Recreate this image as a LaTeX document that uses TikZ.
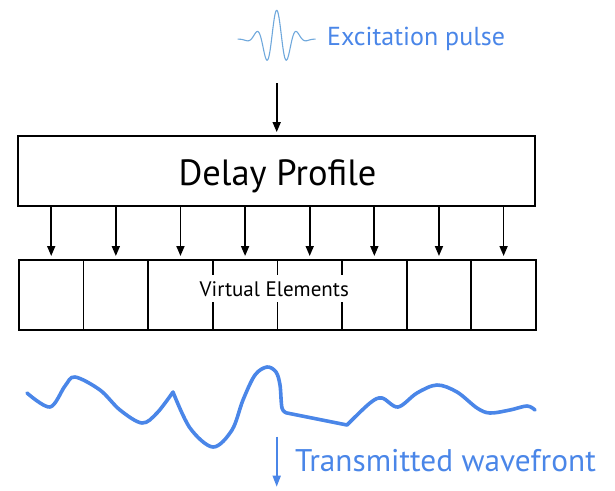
\documentclass[tikz,border=0pt]{standalone}
\usepackage{fontspec}
\setmainfont{PT Sans}
\usetikzlibrary{arrows.meta}
\definecolor{wblue}{HTML}{4A86E8}
\definecolor{lblue}{HTML}{6FA8DC}
\tikzset{
  cell/.style={draw, line width=1.8pt, minimum width=64.625pt, minimum height=70pt, inner sep=0pt, anchor=north west},
  bigbox/.style={draw, line width=1.8pt, minimum width=517pt, minimum height=70pt, inner sep=0pt},
  blkarrow/.style={line width=1.7pt, -{Triangle[width=8pt,length=10pt]}},
  bluearrow/.style={line width=1.7pt, wblue, -{Triangle[width=8pt,length=11pt]}},
  bluetext/.style={text=wblue, inner sep=0pt}
}
\begin{document}
\begin{tikzpicture}[x=1pt, y=-1pt]
\useasboundingbox (0,0) rectangle (615,490);
% excitation pulse
\draw[lblue, line width=1.1pt] plot[domain=-39:39, samples=160] ({276.7+\x}, {39.3-29*cos(360*\x/20.5)*exp(-\x*\x/300)});
\node[bluetext, anchor=base west, font=\fontsize{26}{30}\selectfont] (exc) at (327,45) {Excitation pulse};
\coordinate (pin) at (276.7,83);
% delay profile
\node[bigbox] (dp) at (276.5,171) {};
\node[anchor=base, inner sep=0pt, font=\fontsize{36.5}{40}\selectfont] (dpt) at (277.5,185) {Delay Profile};
\draw[blkarrow, shorten >=3pt] (pin) -- (dp.north -| pin);
% cells
\foreach \i in {1,...,8} {
  \node[cell] (e\i) at ({18+64.625*(\i-1)},259) {};
  \draw[blkarrow, shorten >=3pt] (dp.south -| e\i.north) -- (e\i.north);
}
\node[fill=white, inner xsep=1pt, inner ysep=4pt, text height=17.7pt, text depth=1.3pt, anchor=base, font=\fontsize{21}{24}\selectfont] (ve) at (274.3,296.7) {Virtual Elements};
% wavefront
\draw[wblue, line width=3.6pt, line cap=round, line join=round]
  plot[smooth, tension=0.55] coordinates {(27,393) (50,407) (65,386) (75,377) (100,390) (120,410) (142,423) (157,413) (173,392)}
  -- plot[smooth, tension=0.55] coordinates {(173,392) (190,428) (213,447) (232,430) (243,400) (255,375) (267,367) (276,372) (280,385) (282,408) (287,413)}
  -- plot[smooth, tension=0.55] coordinates {(347,425) (370,403) (382,398) (398,407) (417,393) (437,385) (457,392) (477,408) (490,413) (510,410) (527,406) (535,410)};
\coordinate (wf) at (276.7,436.7);
\coordinate (wfend) at (276.7,486.7);
\draw[bluearrow] (wf) -- (wfend);
\node[bluetext, anchor=base west, font=\fontsize{31.3}{36}\selectfont] (tw) at (295,471.7) {Transmitted wavefront};
\end{tikzpicture}
\end{document}
